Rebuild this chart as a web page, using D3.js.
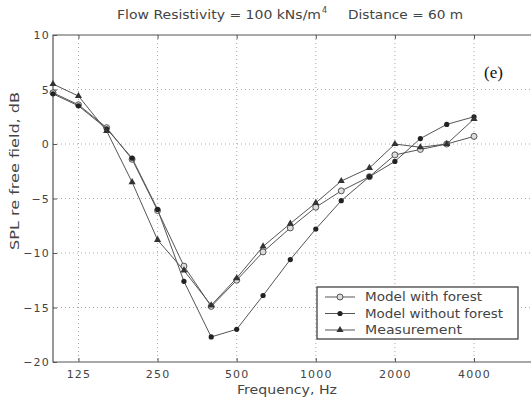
<!DOCTYPE html>
<html><head><meta charset="utf-8">
<script src="https://cdn.jsdelivr.net/npm/d3@7"></script>
<style>html,body{margin:0;padding:0;background:#fff;}svg{display:block;}</style>
</head><body>
<svg id="chart" width="532" height="399"></svg>
<script>
const freqs = [100,125,160,200,250,315,400,500,630,800,1000,1250,1600,2000,2500,3150,4000];
const modelWithForest = [4.7,3.6,1.5,-1.4,-6.1,-11.2,-14.9,-12.5,-9.9,-7.7,-5.8,-4.3,-3.0,-1.0,-0.5,0.0,0.7];
const modelWithoutForest = [4.6,3.5,1.4,-1.3,-6.0,-12.6,-17.7,-17.0,-13.9,-10.6,-7.8,-5.2,-3.0,-1.6,0.5,1.8,2.5];
const measurement = [5.5,4.4,1.2,-3.5,-8.8,-11.6,-14.8,-12.3,-9.4,-7.3,-5.4,-3.4,-2.2,0.0,-0.3,0.0,2.3];
const xTicks = [125,250,500,1000,2000,4000];
const yTicks = [-20,-15,-10,-5,0,5,10];
const seriesNames = ["Model with forest","Model without forest","Measurement"];
const legendWidths = [117, 138, 97];
const titleText = "Flow Resistivity = 100 kNs/m";

const svg = d3.select("#chart");
const L = 53, T = 35, B = 362, R = 531;
const x = d3.scaleLog().domain([100, 4000]).range([53, 474]);
const y = d3.scaleLinear().domain([-20, 10]).range([B, T]);
const font = "'DejaVu Sans', 'Liberation Sans', Arial, sans-serif";
const ink = "#444";

// grid
svg.append("g").selectAll("line").data(xTicks).join("line")
  .attr("x1", d => x(d)).attr("x2", d => x(d)).attr("y1", T).attr("y2", B)
  .attr("stroke", "#aaa").attr("stroke-dasharray", "1,3");
svg.append("g").selectAll("line").data(yTicks.filter(d => d > -20 && d < 10)).join("line")
  .attr("x1", L).attr("x2", R).attr("y1", d => y(d)).attr("y2", d => y(d))
  .attr("stroke", "#aaa").attr("stroke-dasharray", "1,3");

// frame
svg.append("path").attr("d", `M${R},${T}H${L}V${B}H${R}`).attr("fill", "none").attr("stroke", "#555").attr("stroke-width", 1.2);

// axes (ticks inward)
const xb = svg.append("g").attr("transform", `translate(0,${B})`)
  .call(d3.axisBottom(x).tickValues(xTicks).tickFormat(d3.format("d")).tickSize(-4).tickPadding(8));
const xt = svg.append("g").attr("transform", `translate(0,${T})`)
  .call(d3.axisTop(x).tickValues(xTicks).tickFormat("").tickSize(-4));
const yl = svg.append("g").attr("transform", `translate(${L},0)`)
  .call(d3.axisLeft(y).tickValues(yTicks).tickSize(-4).tickPadding(3));
[xb, xt, yl].forEach(g => {
  g.select(".domain").remove();
  g.selectAll("line").attr("stroke", "#555");
  g.selectAll("text").attr("font-family", font).attr("font-size", 11).attr("fill", ink).attr("letter-spacing", 1.2);
});

// series
const lineGen = d3.line().x(d => x(d[0])).y(d => y(d[1]));
const seriesData = [modelWithForest, modelWithoutForest, measurement];
const triangle = d3.symbol().type(d3.symbolTriangle).size(22);
function marker(g, i, cx, cy) {
  if (i === 0) g.append("circle").attr("cx", cx).attr("cy", cy).attr("r", 3).attr("fill", "#ddd").attr("stroke", "#555").attr("stroke-width", 1);
  else if (i === 1) g.append("circle").attr("cx", cx).attr("cy", cy).attr("r", 2.6).attr("fill", "#222");
  else g.append("path").attr("d", triangle()).attr("transform", `translate(${cx},${cy})`).attr("fill", "#333");
}
seriesData.forEach((vals, i) => {
  const pts = freqs.map((f, k) => [f, vals[k]]);
  const g = svg.append("g");
  g.append("path").attr("d", lineGen(pts)).attr("fill", "none").attr("stroke", "#555").attr("stroke-width", 1);
  pts.forEach(p => marker(g, i, x(p[0]), y(p[1])));
});

// legend
const lg = svg.append("g");
lg.append("rect").attr("x", 317).attr("y", 287).attr("width", 201).attr("height", 52)
  .attr("fill", "#fff").attr("stroke", "#333").attr("stroke-width", 1.2);
seriesNames.forEach((n, i) => {
  const yy = 297 + i * 16.5;
  lg.append("line").attr("x1", 325).attr("x2", 355).attr("y1", yy).attr("y2", yy).attr("stroke", "#555");
  marker(lg, i, 340, yy);
  lg.append("text").attr("x", 365).attr("y", yy + 4).text(n)
    .attr("textLength", legendWidths[i]).attr("lengthAdjust", "spacingAndGlyphs")
    .attr("font-family", font).attr("font-size", 11.5).attr("fill", ink);
});

// title
const tt = svg.append("g").attr("font-family", font).attr("font-size", 12).attr("fill", ink);
tt.append("text").attr("x", 117).attr("y", 19).text(titleText)
  .attr("textLength", 204).attr("lengthAdjust", "spacingAndGlyphs");
tt.append("text").attr("x", 322).attr("y", 13).text("4").attr("font-size", 8);
tt.append("text").attr("x", 348).attr("y", 19).text("Distance = 60 m")
  .attr("textLength", 115).attr("lengthAdjust", "spacingAndGlyphs");

// (e) label
svg.append("text").attr("x", 484).attr("y", 78).text("(e)")
  .attr("font-family", "'Liberation Serif', 'Times New Roman', serif").attr("font-size", 17).attr("fill", "#111");

// axis labels
svg.append("text").attr("x", 237).attr("y", 394).text("Frequency, Hz")
  .attr("textLength", 100).attr("lengthAdjust", "spacingAndGlyphs")
  .attr("font-family", font).attr("font-size", 11.5).attr("fill", ink);
svg.append("text").attr("transform", "translate(19,250) rotate(-90)").text("SPL re free field, dB")
  .attr("textLength", 158).attr("lengthAdjust", "spacingAndGlyphs")
  .attr("font-family", font).attr("font-size", 11.5).attr("fill", ink);
</script>
</body></html>
